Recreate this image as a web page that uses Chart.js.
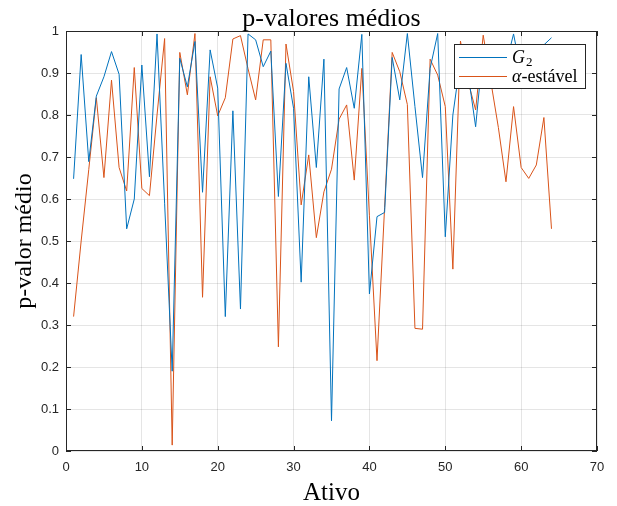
<!DOCTYPE html>
<html>
<head>
<meta charset="utf-8">
<script src="https://cdn.jsdelivr.net/npm/chart.js@4/dist/chart.umd.min.js"></script>
<style>
  html, body { margin: 0; padding: 0; background: #fff; }
  #wrap { width: 617px; height: 506px; }
</style>
</head>
<body>
<div id="wrap"><canvas id="chart" width="617" height="506"></canvas></div>
<script>
// dados (ativos 1..64)
const ativos = [1, 2, 3, 4, 5, 6, 7, 8, 9, 10, 11, 12, 13, 14, 15, 16,
    17, 18, 19, 20, 21, 22, 23, 24, 25, 26, 27, 28, 29, 30, 31, 32,
    33, 34, 35, 36, 37, 38, 39, 40, 41, 42, 43, 44, 45, 46, 47, 48,
    49, 50, 51, 52, 53, 54, 55, 56, 57, 58, 59, 60, 61, 62, 63, 64];

const pG2 = [0.648, 0.944, 0.689, 0.845, 0.891, 0.951, 0.897, 0.529,
    0.600, 0.919, 0.653, 0.993, 0.590, 0.190, 0.935, 0.867,
    0.975, 0.616, 0.955, 0.864, 0.320, 0.810, 0.338, 0.993,
    0.979, 0.915, 0.952, 0.606, 0.923, 0.816, 0.402, 0.891,
    0.675, 0.933, 0.072, 0.862, 0.913, 0.816, 0.992, 0.374,
    0.558, 0.568, 0.937, 0.836, 0.994, 0.820, 0.651, 0.911,
    0.994, 0.510, 0.800, 0.930, 0.900, 0.772, 0.960, 0.930,
    0.890, 0.920, 0.993, 0.900, 0.930, 0.910, 0.967, 0.984];

const pAlfa = [0.320, 0.500, 0.670, 0.841, 0.651, 0.883, 0.675, 0.619,
    0.913, 0.625, 0.608, 0.800, 0.982, 0.014, 0.949, 0.848,
    0.994, 0.366, 0.891, 0.798, 0.841, 0.981, 0.989, 0.910,
    0.836, 0.979, 0.979, 0.248, 0.969, 0.856, 0.586, 0.705,
    0.508, 0.617, 0.671, 0.790, 0.824, 0.645, 0.911, 0.560,
    0.215, 0.580, 0.949, 0.903, 0.825, 0.292, 0.290, 0.933,
    0.895, 0.820, 0.433, 0.976, 0.880, 0.812, 0.990, 0.880,
    0.770, 0.641, 0.820, 0.675, 0.649, 0.681, 0.794, 0.529];

const xTicks = [0, 10, 20, 30, 40, 50, 60, 70];
const yTicks = [0, 0.1, 0.2, 0.3, 0.4, 0.5, 0.6, 0.7, 0.8, 0.9, 1];

const AZUL = '#0072BD';
const LARANJA = '#D95319';
const EIXO = '#262626';
const SERIF = '"Liberation Serif", "DejaVu Serif", serif';
const SANS = '"Liberation Sans", Arial, sans-serif';

// moldura estilo MATLAB: caixa, marcas internas, título e legenda
const moldura = {
    id: 'moldura',
    afterDraw(chart) {
        const { ctx, chartArea: a, scales } = chart;
        ctx.save();
        ctx.strokeStyle = EIXO;
        ctx.lineWidth = 1;
        ctx.strokeRect(a.left + 0.5, a.top + 0.5, a.right - a.left - 1, a.bottom - a.top - 1);

        ctx.beginPath();
        xTicks.forEach(v => {
            const px = Math.round(scales.x.getPixelForValue(v)) + 0.5;
            ctx.moveTo(px, a.bottom); ctx.lineTo(px, a.bottom - 5);
            ctx.moveTo(px, a.top); ctx.lineTo(px, a.top + 5);
        });
        yTicks.forEach(v => {
            const py = Math.round(scales.y.getPixelForValue(v)) + 0.5;
            ctx.moveTo(a.left, py); ctx.lineTo(a.left + 5, py);
            ctx.moveTo(a.right, py); ctx.lineTo(a.right - 5, py);
        });
        ctx.stroke();

        // título
        ctx.fillStyle = '#000';
        ctx.font = '26px ' + SERIF;
        ctx.textAlign = 'center';
        ctx.textBaseline = 'alphabetic';
        ctx.fillText('p-valores médios', (a.left + a.right) / 2, 26);

        // legenda
        const lx = 454, ly = 44, lw = 131, lh = 44;
        ctx.fillStyle = '#fff';
        ctx.fillRect(lx, ly, lw, lh);
        ctx.strokeStyle = EIXO;
        ctx.strokeRect(lx + 0.5, ly + 0.5, lw, lh);

        ctx.lineWidth = 1;
        ctx.strokeStyle = AZUL;
        ctx.beginPath(); ctx.moveTo(459, 57.5); ctx.lineTo(507, 57.5); ctx.stroke();
        ctx.strokeStyle = LARANJA;
        ctx.beginPath(); ctx.moveTo(459, 76.5); ctx.lineTo(507, 76.5); ctx.stroke();

        ctx.fillStyle = '#000';
        ctx.textAlign = 'left';
        ctx.textBaseline = 'alphabetic';
        ctx.font = 'italic 18px ' + SERIF;
        ctx.fillText('G', 512, 63);
        ctx.font = '13px ' + SERIF;
        ctx.fillText('2', 526, 66);
        ctx.font = 'italic 18px ' + SERIF;
        ctx.fillText('α', 512, 82);
        const wA = ctx.measureText('α').width;
        ctx.font = '18px ' + SERIF;
        ctx.fillText('-estável', 512 + wA, 82);
        ctx.restore();
    }
};

new Chart(document.getElementById('chart'), {
    type: 'line',
    data: {
        datasets: [{
            label: 'G2',
            data: ativos.map((x, i) => ({ x: x, y: pG2[i] })),
            borderColor: AZUL,
            borderWidth: 1,
            pointRadius: 0,
            tension: 0
        }, {
            label: 'α-estável',
            data: ativos.map((x, i) => ({ x: x, y: pAlfa[i] })),
            borderColor: LARANJA,
            borderWidth: 1,
            pointRadius: 0,
            tension: 0
        }]
    },
    options: {
        responsive: false,
        animation: false,
        devicePixelRatio: 1,
        layout: { padding: { top: 31, right: 20, left: 0, bottom: 0 } },
        plugins: {
            legend: { display: false },
            title: { display: false },
            tooltip: { enabled: false }
        },
        scales: {
            x: {
                type: 'linear',
                min: 0, max: 70,
                afterBuildTicks: s => { s.ticks = xTicks.map(v => ({ value: v })); },
                afterFit: s => { s.height = 55; },
                grid: { color: 'rgba(38,38,38,0.12)', drawTicks: false },
                border: { display: false },
                ticks: { color: EIXO, font: { family: SANS, size: 13 }, padding: 9, maxRotation: 0 },
                title: { display: true, text: 'Ativo', color: '#000', font: { family: SERIF, size: 25 }, padding: { top: 0, bottom: -2 } }
            },
            y: {
                min: 0, max: 1,
                afterBuildTicks: s => { s.ticks = yTicks.map(v => ({ value: v })); },
                afterFit: s => { s.width = 66; },
                grid: { color: 'rgba(38,38,38,0.12)', drawTicks: false },
                border: { display: false },
                ticks: { color: EIXO, font: { family: SANS, size: 13 }, padding: 7,
                    callback: v => String(Math.round(v * 10) / 10) },
                title: { display: true, text: 'p-valor médio', color: '#000', font: { family: SERIF, size: 24 }, padding: { top: 10, bottom: 0 } }
            }
        }
    },
    plugins: [moldura]
});
</script>
</body>
</html>
